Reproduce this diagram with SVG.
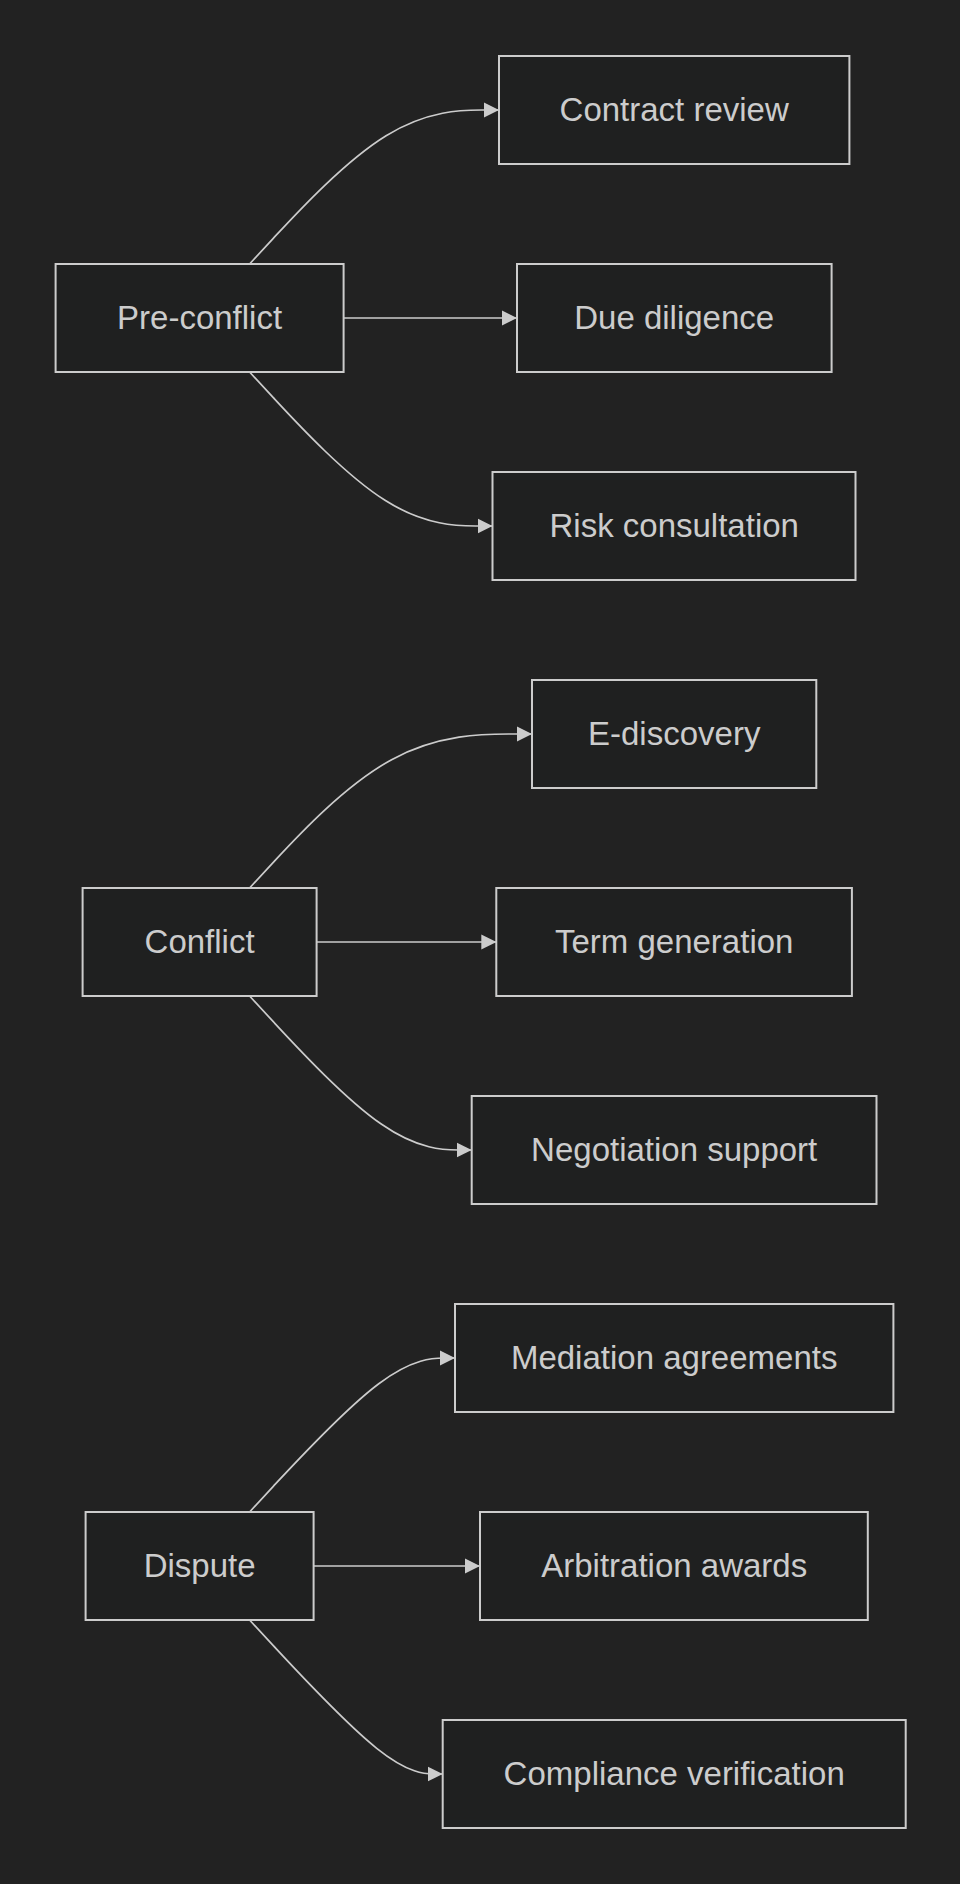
<svg xmlns="http://www.w3.org/2000/svg" width="960" height="1884" viewBox="0 0 960 1884">
<style>
.node rect{fill:#1f2020;stroke:#cccccc;stroke-width:2}
.node text{fill:#cccccc;font-family:"Liberation Sans",Arial,sans-serif;font-size:33px;text-anchor:middle}
.edge{fill:none;stroke:#cccccc;stroke-width:1.7;marker-end:url(#arrow)}
</style>
<defs>
<marker id="arrow" viewBox="0 0 10 10" refX="10" refY="5" markerUnits="userSpaceOnUse" markerWidth="15" markerHeight="15.4" orient="auto">
<path d="M0,0 L10,5 L0,10 z" fill="#cccccc"/>
</marker>
</defs>
<rect x="0" y="0" width="960" height="1884" fill="#222222"/>
<g id="connectors">
<path class="edge" d="M249.6,264 L273.3,238.3 C297.1,212.7 344.5,161.3 386.1,135.7 C427.7,110 463.3,110 481.2,110 L499,110"/>
<path class="edge" d="M343.6,318 L517,318"/>
<path class="edge" d="M249.6,372 L273.3,397.7 C297.1,423.3 344.5,474.7 385,500.3 C425.5,526 459,526 475.8,526 L492.5,526"/>
<path class="edge" d="M249.6,888 L273.3,862.3 C297.1,836.7 344.5,785.3 391.6,759.7 C438.7,734 485.3,734 508.7,734 L532,734"/>
<path class="edge" d="M316.6,942 L496.3,942"/>
<path class="edge" d="M249.6,996 L273.3,1021.7 C297.1,1047.3 344.5,1098.7 381.6,1124.3 C418.6,1150 445.1,1150 458.4,1150 L471.7,1150"/>
<path class="edge" d="M249.6,1512 L273.3,1486.3 C297.1,1460.7 344.5,1409.3 378.8,1383.7 C413,1358 434,1358 444.5,1358 L455,1358"/>
<path class="edge" d="M313.6,1566 L480,1566"/>
<path class="edge" d="M249.6,1620 L273.3,1645.7 C297.1,1671.3 344.5,1722.7 376.7,1748.3 C408.9,1774 425.8,1774 434.3,1774 L442.7,1774"/>
</g>
<g id="pre-conflict" class="node"><rect x="55.6" y="264" width="288" height="108"/><text x="199.6" y="329">Pre-conflict</text></g>
<g id="contract-review" class="node"><rect x="499" y="56" width="350.4" height="108"/><text x="674.2" y="121">Contract review</text></g>
<g id="due-diligence" class="node"><rect x="517" y="264" width="314.6" height="108"/><text x="674.2" y="329">Due diligence</text></g>
<g id="risk-consultation" class="node"><rect x="492.5" y="472" width="363" height="108"/><text x="674.2" y="537">Risk consultation</text></g>
<g id="conflict" class="node"><rect x="82.6" y="888" width="234" height="108"/><text x="199.6" y="953">Conflict</text></g>
<g id="e-discovery" class="node"><rect x="532" y="680" width="284.3" height="108"/><text x="674.2" y="745">E-discovery</text></g>
<g id="term-generation" class="node"><rect x="496.3" y="888" width="355.6" height="108"/><text x="674.2" y="953">Term generation</text></g>
<g id="negotiation-support" class="node"><rect x="471.7" y="1096" width="404.8" height="108"/><text x="674.2" y="1161">Negotiation support</text></g>
<g id="dispute" class="node"><rect x="85.6" y="1512" width="228" height="108"/><text x="199.6" y="1577">Dispute</text></g>
<g id="mediation-agreements" class="node"><rect x="455" y="1304" width="438.4" height="108"/><text x="674.2" y="1369">Mediation agreements</text></g>
<g id="arbitration-awards" class="node"><rect x="480" y="1512" width="387.8" height="108"/><text x="674.2" y="1577">Arbitration awards</text></g>
<g id="compliance-verification" class="node"><rect x="442.7" y="1720" width="463" height="108"/><text x="674.2" y="1785">Compliance verification</text></g>
</svg>
